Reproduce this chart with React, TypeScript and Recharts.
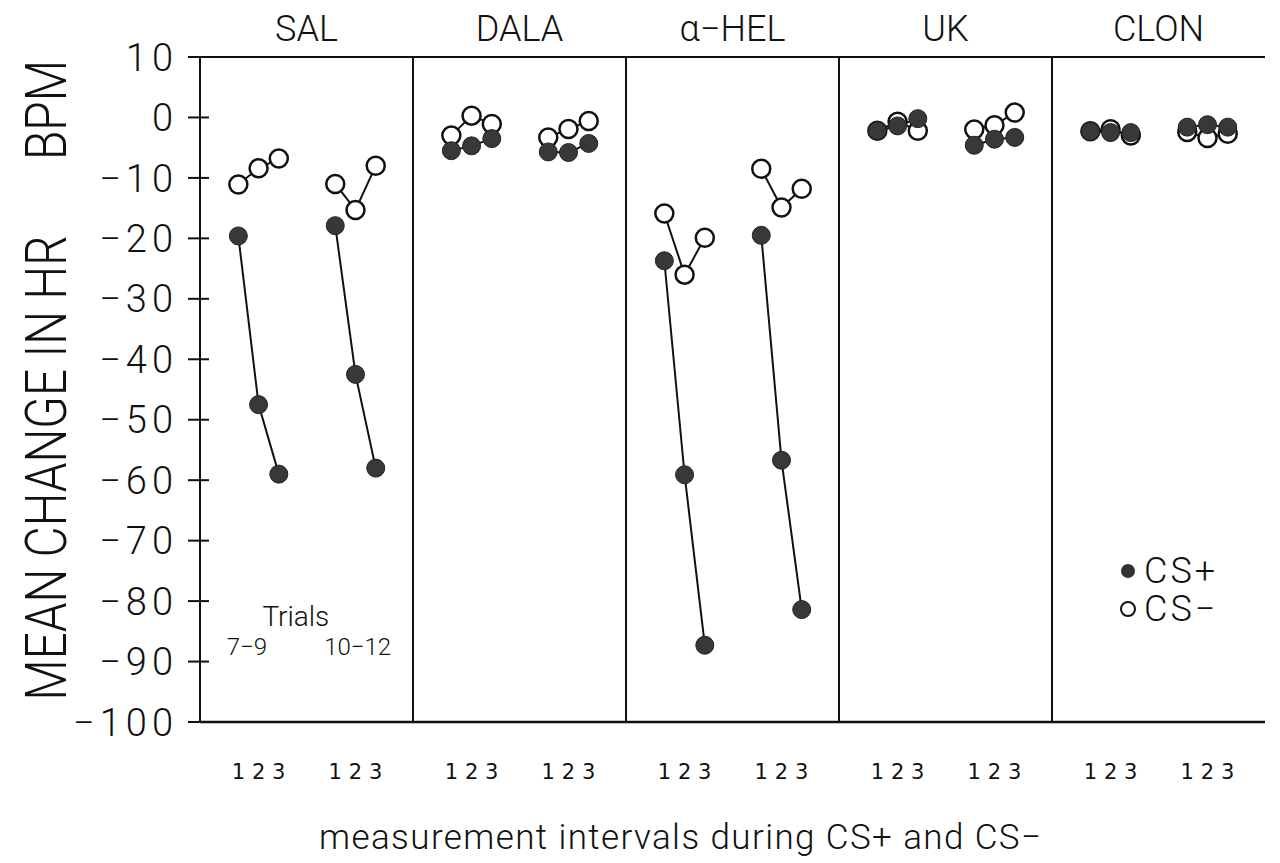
import React from 'react';
import {
  LineChart, Line, XAxis, YAxis, ReferenceLine, ReferenceDot, Legend
} from 'recharts';

const panelNames = ['SAL', 'DALA', 'α−HEL', 'UK', 'CLON'];
const intervalLabels = ['1', '2', '3'];
const trialBlocks = ['7−9', '10−12'];
// position of intervals 1-3 inside a panel, for trials 7-9 and 10-12
const groupOffsets = [[0.18, 0.275, 0.37], [0.635, 0.73, 0.825]];
const yTicks = [10, 0, -10, -20, -30, -40, -50, -60, -70, -80, -90, -100];

// mean change in HR (BPM), intervals 1-3 of trials 7-9 then 10-12
const salPlus = [-19.6, -47.5, -59, -17.9, -42.5, -58];
const salMinus = [-11.1, -8.4, -6.8, -11.0, -15.3, -8.0];
const dalaPlus = [-5.5, -4.7, -3.5, -5.7, -5.8, -4.3];
const dalaMinus = [-3.0, 0.3, -1.1, -3.3, -1.9, -0.6];
const helPlus = [-23.7, -59.1, -87.3, -19.5, -56.7, -81.4];
const helMinus = [-15.9, -26.0, -19.9, -8.5, -14.9, -11.8];
const ukPlus = [-2.2, -1.4, -0.2, -4.6, -3.6, -3.3];
const ukMinus = [-2.2, -0.7, -2.2, -2.0, -1.3, 0.8];
const clonPlus = [-2.3, -2.5, -2.5, -1.6, -1.2, -1.6];
const clonMinus = [-2.3, -1.95, -3.0, -2.4, -3.4, -2.7];

const panelSeries = [
  [salPlus, salMinus],
  [dalaPlus, dalaMinus],
  [helPlus, helMinus],
  [ukPlus, ukMinus],
  [clonPlus, clonMinus],
];

// null rows break the line between the two trial blocks / panels
const rows = panelNames.flatMap((_, p) =>
  groupOffsets.flatMap((offs, g) => [
    ...offs.map((o, k) => ({
      x: p + o,
      plus: panelSeries[p][0][g * 3 + k],
      minus: panelSeries[p][1][g * 3 + k],
    })),
    { x: p + (g === 0 ? 0.5 : 0.97), plus: null, minus: null },
  ])
);
const pointTicks = rows.filter(r => r.plus !== null).map(r => r.x);
const titleTicks = panelNames.map((_, i) => i + 0.5);

const INK = '#111';
const FONT = 'Roboto, "DejaVu Sans", sans-serif';
const fmt = (v: number) => String(v).replace('-', '\u2212');

const YTick = ({ x, y, payload }: any) => (
  <g>
    <line x1={x - 12} x2={x + 9} y1={y} y2={y} stroke={INK} strokeWidth={2} />
    <text x={x - 22} y={y} dy="0.36em" textAnchor="end" fontSize={38} fontWeight={300}
      letterSpacing={5} fontFamily={FONT} fill={INK}>
      {fmt(payload.value)}
    </text>
  </g>
);

const YLabel = () => (
  <g fontFamily={FONT} fontWeight={300} fill={INK} fontSize={58}>
    <text transform="translate(66,468) rotate(-90)" textAnchor="middle"
      textLength={465} lengthAdjust="spacingAndGlyphs">MEAN CHANGE IN HR</text>
    <text transform="translate(66,110) rotate(-90)" textAnchor="middle"
      textLength={100} lengthAdjust="spacingAndGlyphs">BPM</text>
  </g>
);

const XLabel = () => (
  <text x={680} y={849} textAnchor="middle" fontSize={35} fontWeight={300}
    fontFamily={FONT} fill={INK} textLength={722} lengthAdjust="spacing">
    measurement intervals during CS+ and CS−
  </text>
);

const LegendBox = () => (
  <div style={{ fontFamily: FONT, fontWeight: 300, fontSize: 36, color: INK, lineHeight: '38px' }}>
    <div style={{ display: 'flex', alignItems: 'center' }}>
      <svg width={22} height={22}><circle cx={10} cy={11} r={7} fill="#333" /></svg>
      <span style={{ marginLeft: 4, letterSpacing: 3 }}>CS+</span>
    </div>
    <div style={{ display: 'flex', alignItems: 'center' }}>
      <svg width={22} height={22}><circle cx={10} cy={11} r={7} fill="#fff" stroke={INK} strokeWidth={2} /></svg>
      <span style={{ marginLeft: 4, letterSpacing: 3 }}>CS−</span>
    </div>
  </div>
);

export default function App() {
  return (
    <div style={{ position: 'absolute', left: 0, top: 0, width: 1280, height: 863, background: '#fff' }}>
      <LineChart width={1280} height={863} data={rows} margin={{ top: 0, right: 15, bottom: 0, left: 0 }}>
        <XAxis xAxisId="top" orientation="top" type="number" dataKey="x" domain={[0, 5]}
          ticks={titleTicks} interval={0} height={57} axisLine={false} tickLine={false}
          tickSize={0} tickMargin={16}
          tickFormatter={(v: number) => panelNames[Math.floor(v)]}
          tick={{ fontSize: 36, fontWeight: 300, fill: INK, fontFamily: FONT }} />
        <XAxis type="number" dataKey="x" domain={[0, 5]} ticks={pointTicks} interval={0}
          height={141} axisLine={{ stroke: INK, strokeWidth: 2.5 }} tickLine={false} tickSize={0}
          tickMargin={42}
          tickFormatter={(_: number, i: number) => intervalLabels[i % 3]}
          tick={{ fontSize: 21, fill: INK, fontFamily: '"DejaVu Sans", sans-serif' }}
          label={<XLabel />} />
        <YAxis type="number" domain={[-100, 10]} ticks={yTicks} interval={0} width={200}
          axisLine={{ stroke: INK, strokeWidth: 2 }} tickLine={false} tickSize={0} tickMargin={0}
          tick={<YTick />} label={<YLabel />} />
        <ReferenceLine y={10} stroke={INK} strokeWidth={2} />
        {panelNames.slice(1).map((name, i) => (
          <ReferenceLine key={name} x={i + 1} stroke={INK} strokeWidth={2} />
        ))}
        <ReferenceDot x={0.45} y={-82.5} r={0} stroke="none"
          label={{ value: 'Trials', position: 'center', fontSize: 28, fontWeight: 300, fill: INK, fontFamily: FONT }} />
        {trialBlocks.map((t, g) => (
          <ReferenceDot key={t} x={g === 0 ? 0.22 : 0.74} y={-87.5} r={0} stroke="none"
            label={{ value: t, position: 'center', fontSize: 24, fontWeight: 300, fill: INK, fontFamily: FONT }} />
        ))}
        <Line dataKey="minus" name="CS−" stroke={INK} strokeWidth={2} isAnimationActive={false}
          dot={{ r: 9, fill: '#fff', stroke: INK, strokeWidth: 2.5 }} activeDot={false} />
        <Line dataKey="plus" name="CS+" stroke={INK} strokeWidth={2} isAnimationActive={false}
          dot={{ r: 9, fill: '#383838', stroke: '#222', strokeWidth: 1 }} activeDot={false} />
        <Legend layout="vertical" align="center" verticalAlign="middle" content={<LegendBox />}
          wrapperStyle={{ left: 1118, top: 552, width: 150, height: 80 }} />
      </LineChart>
    </div>
  );
}
